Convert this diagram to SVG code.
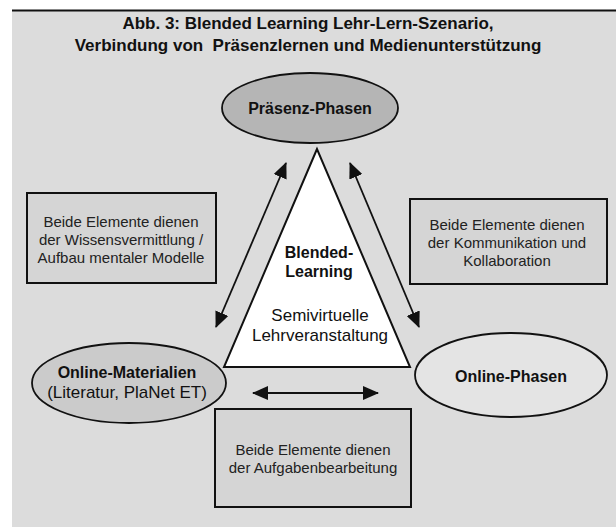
<svg xmlns="http://www.w3.org/2000/svg" width="616" height="527" viewBox="0 0 616 527">
<defs>
<style>
text{font-family:"Liberation Sans",Arial,sans-serif;fill:#111;text-anchor:middle}
.t{font-size:17px;font-weight:bold}
.n{font-size:16px;font-weight:bold}
.s{font-size:15px;fill:#222}
.m{font-size:17px}
.box{fill:#d5d5d5;stroke:#111;stroke-width:2}
.el{stroke:#111;stroke-width:1.8}
.ln{stroke:#111;stroke-width:1.8;fill:none}
</style>
<marker id="ah" viewBox="0 0 16 14" refX="15" refY="7" markerWidth="16" markerHeight="14" orient="auto-start-reverse" markerUnits="userSpaceOnUse">
<path d="M0,0 L16,7 L0,14 z" fill="#111"/>
</marker>
</defs>
<rect x="0" y="0" width="616" height="527" fill="#fff"/>
<rect x="12" y="10" width="604" height="517" fill="#dcdcdc"/>
<line x1="12" y1="10.5" x2="616" y2="10.5" stroke="#111" stroke-width="2"/>
<g id="title">
<text class="t" x="308" y="29">Abb. 3: Blended Learning Lehr-Lern-Szenario,</text>
<text class="t" x="308" y="51" xml:space="preserve">Verbindung von  Präsenzlernen und Medienunterstützung</text>
</g>
<g id="praesenz">
<ellipse class="el" cx="310" cy="108" rx="88" ry="35" fill="#b5b5b5"/>
<text class="n" x="310" y="114">Präsenz-Phasen</text>
</g>
<g id="triangle">
<polygon points="317,149 224,367 410,367" fill="#fff" stroke="#111" stroke-width="2"/>
<text class="n" x="319" y="258">Blended-</text>
<text class="n" x="319" y="277">Learning</text>
<text class="m" x="320" y="321">Semivirtuelle</text>
<text class="m" x="320" y="341">Lehrveranstaltung</text>
</g>
<g id="box-left">
<rect class="box" x="27" y="193" width="189" height="90"/>
<text class="s" x="121" y="227">Beide Elemente dienen</text>
<text class="s" x="121" y="245">der Wissensvermittlung /</text>
<text class="s" x="121" y="263">Aufbau mentaler Modelle</text>
</g>
<g id="box-right">
<rect class="box" x="410" y="199" width="197" height="85"/>
<text class="s" x="507" y="230">Beide Elemente dienen</text>
<text class="s" x="507" y="248">der Kommunikation und</text>
<text class="s" x="507" y="266">Kollaboration</text>
</g>
<g id="online-materialien">
<ellipse class="el" cx="129" cy="383" rx="97" ry="40" fill="#cbcbcb"/>
<text class="n" x="127" y="378">Online-Materialien</text>
<text class="m" x="127" y="398">(Literatur, PlaNet ET)</text>
</g>
<g id="online-phasen">
<ellipse class="el" cx="511" cy="375" rx="96" ry="42" fill="#e4e4e4"/>
<text class="n" x="511" y="382">Online-Phasen</text>
</g>
<g id="box-bottom">
<rect class="box" x="215" y="409" width="196" height="98"/>
<text class="s" x="313" y="455">Beide Elemente dienen</text>
<text class="s" x="313" y="473">der Aufgabenbearbeitung</text>
</g>
<g id="connectors">
<line class="ln" x1="216" y1="327" x2="286" y2="163" marker-start="url(#ah)" marker-end="url(#ah)"/>
<line class="ln" x1="350" y1="163" x2="419" y2="327" marker-start="url(#ah)" marker-end="url(#ah)"/>
<line class="ln" x1="253" y1="393" x2="378" y2="393" marker-start="url(#ah)" marker-end="url(#ah)"/>
</g>
</svg>
